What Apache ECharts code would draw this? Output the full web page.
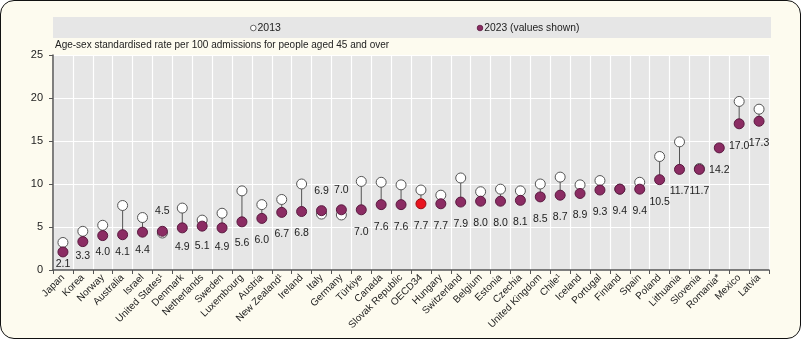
<!DOCTYPE html>
<html><head><meta charset="utf-8">
<script src="https://cdn.jsdelivr.net/npm/echarts@6/dist/echarts.min.js"></script>
<style>
html,body{margin:0;padding:0;background:#fff;}
#wrap{position:absolute;left:0;top:0;width:801px;height:339px;box-sizing:border-box;border:1.5px solid #111;border-radius:14px;background:#fdfbef;overflow:hidden;}
#chart{position:absolute;left:0;top:0;width:801px;height:339px;}
</style></head>
<body><div id="wrap"></div><div id="chart"></div>
<script>
const categories = ["Japan","Korea","Norway","Australia","Israel","United States¹","Denmark","Netherlands","Sweden","Luxembourg","Austria","New Zealand¹","Ireland","Italy","Germany","Türkiye","Canada","Slovak Republic","OECD34","Hungary","Switzerland","Belgium","Estonia","Czechia","United Kingdom","Chile¹","Iceland","Portugal","Finland","Spain","Poland","Lithuania","Slovenia","Romania*","Mexico","Latvia"];
const values2013 = [3.2,4.5,5.2,7.5,6.1,4.3,7.2,5.8,6.6,9.2,7.6,8.2,10.0,6.5,6.4,10.3,10.2,9.9,9.3,8.7,10.7,9.1,9.4,9.2,10.0,10.8,9.9,10.4,9.4,10.2,13.2,14.9,11.8,null,19.6,18.7];
const values2023 = [2.1,3.3,4.0,4.1,4.4,4.5,4.9,5.1,4.9,5.6,6.0,6.7,6.8,6.9,7.0,7.0,7.6,7.6,7.7,7.7,7.9,8.0,8.0,8.1,8.5,8.7,8.9,9.3,9.4,9.4,10.5,11.7,11.7,14.2,17.0,17.3];
const yTicks = [0,5,10,15,20,25];
const seriesNames = ["2013","2023 (values shown)"];
const highlight = "OECD34";

const FONT = "'Liberation Sans',Arial,sans-serif";
const PURPLE = "#8b2c63";
const chart = echarts.init(document.getElementById('chart'), null, {renderer:'canvas'});

const lineData = categories.map((c,i)=>[i, values2013[i], values2023[i]]).filter(d=>d[1]!=null && d[2]!=null);

const d2023 = values2023.map((v,i)=>{
  const v13 = values2013[i];
  const above = v13 != null && v13 < v;
  const extra = Math.max(0, 5.8 - v) * 3;
  const item = {
    value: v,
    label: {position: above ? 'top' : 'bottom', distance: above ? 9 : Math.max(1, 11 - extra)}
  };
  if (categories[i] === highlight) item.itemStyle = {color:'#e8141f', borderColor:'#9a0c12'};
  return item;
});

chart.setOption({
  animation:false,
  textStyle:{fontFamily:FONT},
  graphic:[
    {type:'rect', z:-1, shape:{x:53,y:17,width:718,height:21}, style:{fill:'#e6e6e6'}},
    {type:'circle', shape:{cx:253.3, cy:28, r:2.8}, style:{fill:'#fff', stroke:'#444', lineWidth:0.8}},
    {type:'text', x:257.5, y:28, style:{text:seriesNames[0], font:"10.5px "+FONT, fill:'#222', verticalAlign:'middle'}},
    {type:'circle', shape:{cx:480, cy:28, r:2.8}, style:{fill:PURPLE, stroke:'#5a1a40', lineWidth:0.8}},
    {type:'text', x:484.3, y:28, style:{text:seriesNames[1], font:"10.3px "+FONT, fill:'#222', verticalAlign:'middle'}},
    {type:'text', left:55, top:40, style:{text:'Age-sex standardised rate per 100 admissions for people aged 45 and over', font:"10px "+FONT, fill:'#222'}}
  ],
  grid:{left:53, right:32, top:55, bottom:69, show:true, backgroundColor:'#e6e6e6', borderWidth:0},
  xAxis:{
    type:'category', data:categories, boundaryGap:true,
    axisLine:{lineStyle:{color:'#555', width:1.5}},
    axisTick:{show:true, interval:0, length:4, lineStyle:{color:'#555'}},
    axisLabel:{interval:0, rotate:45, fontSize:10, color:'#222', fontFamily:FONT, margin:6},
    splitLine:{show:true, interval:0, lineStyle:{color:'#fff', width:1.2}}
  },
  yAxis:{
    type:'value', min:yTicks[0], max:yTicks[yTicks.length-1], interval:5,
    axisLine:{show:true, lineStyle:{color:'#555', width:1.5}},
    axisTick:{show:true, length:4, lineStyle:{color:'#555'}},
    axisLabel:{fontSize:11, color:'#222', fontFamily:FONT, margin:10},
    splitLine:{show:true, lineStyle:{color:'#fff', width:1.2}}
  },
  series:[
    {
      type:'custom', name:'conn', silent:true, z:1,
      data:lineData,
      encode:{x:0, y:[1,2]},
      renderItem:(params, api)=>{
        const p1 = api.coord([api.value(0), api.value(1)]);
        const p2 = api.coord([api.value(0), api.value(2)]);
        return {type:'line', shape:{x1:p1[0],y1:p1[1],x2:p2[0],y2:p2[1]}, style:{stroke:'#555', lineWidth:1}};
      }
    },
    {
      type:'scatter', name:seriesNames[0], z:2, symbol:'circle', symbolSize:10,
      data:values2013,
      itemStyle:{color:'#fff', borderColor:'#555', borderWidth:1, opacity:1}
    },
    {
      type:'scatter', name:seriesNames[1], z:3, symbol:'circle', symbolSize:10,
      data:d2023,
      itemStyle:{color:PURPLE, borderColor:'#5a1a40', borderWidth:1, opacity:1},
      label:{show:true, fontSize:10.5, color:'#222', fontFamily:FONT, formatter:p=>p.value.toFixed(1)}
    }
  ]
});
</script></body></html>
